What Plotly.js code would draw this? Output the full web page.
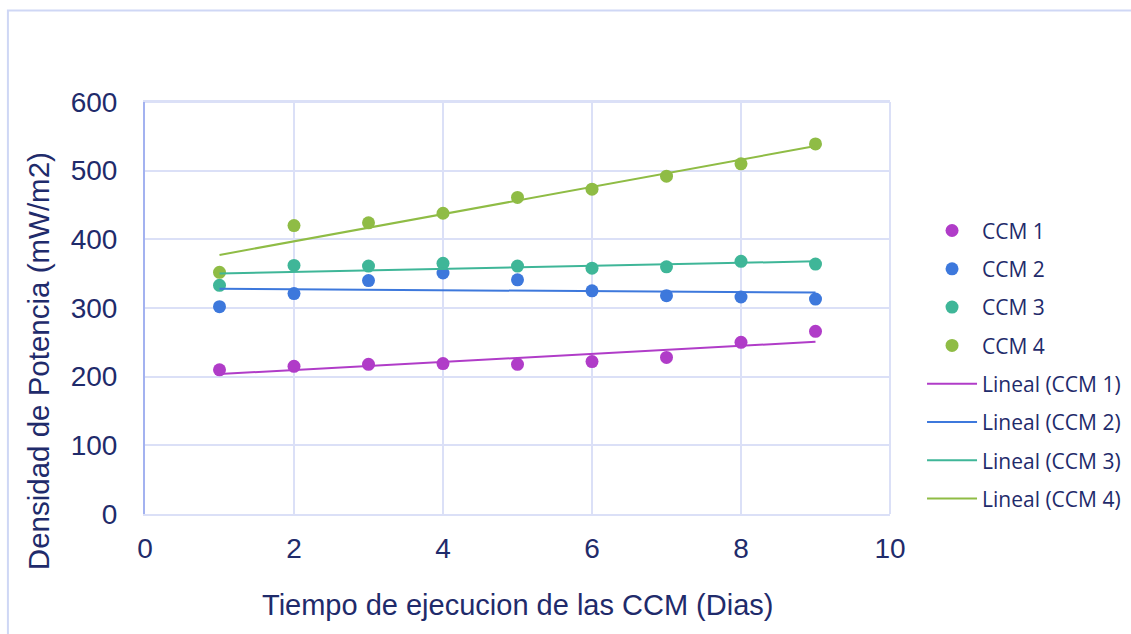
<!DOCTYPE html>
<html>
<head>
<meta charset="utf-8">
<script src="https://cdn.plot.ly/plotly-3.0.1.min.js"></script>
<style>
html,body{margin:0;padding:0;background:#fff;overflow:hidden;}
#chart{width:1131px;height:634px;}
</style>
</head>
<body>
<div id="chart"></div>
<script>
// Data
const dias = [1, 2, 3, 4, 5, 6, 7, 8, 9];
const ccm1 = [210, 215, 218, 219, 218, 222, 228, 250, 266];
const ccm2 = [302, 321, 340, 351, 341, 325, 318, 316, 313];
const ccm3 = [333, 362, 361, 365, 361, 358, 360, 368, 364];
const ccm4 = [352, 420, 424, 438, 461, 473, 492, 510, 539];
const seriesNames = ['CCM 1', 'CCM 2', 'CCM 3', 'CCM 4'];
const seriesColors = ['#b03cc8', '#3d78dc', '#3fb698', '#8fbc45'];
const xTicks = [0, 2, 4, 6, 8, 10];
const yTicks = [0, 100, 200, 300, 400, 500, 600];
const xTitle = 'Tiempo de ejecucion de las CCM (Dias)';
const yTitle = 'Densidad de Potencia (mW/m2)';

// Least-squares linear trendline (like Excel "Lineal")
function linearFit(x, y) {
  const n = x.length;
  const mx = x.reduce((a, b) => a + b, 0) / n;
  const my = y.reduce((a, b) => a + b, 0) / n;
  let sxy = 0, sxx = 0;
  for (let i = 0; i < n; i++) { sxy += (x[i] - mx) * (y[i] - my); sxx += (x[i] - mx) ** 2; }
  const m = sxy / sxx, b = my - m * mx;
  return x.map(v => m * v + b);
}

const allSeries = [ccm1, ccm2, ccm3, ccm4];
const traces = [];
allSeries.forEach((ys, i) => {
  traces.push({
    x: dias, y: ys, name: seriesNames[i], type: 'scatter', mode: 'markers',
    marker: { color: seriesColors[i], size: 13 },
    legendgroup: 'g' + i, legendrank: i + 1
  });
});
allSeries.forEach((ys, i) => {
  traces.push({
    x: dias, y: linearFit(dias, ys), name: 'Lineal (' + seriesNames[i] + ')',
    type: 'scatter', mode: 'lines',
    line: { color: seriesColors[i], width: 2 },
    legendgroup: 'l' + i, legendrank: i + 5
  });
});

const textColor = '#1f2b6b';
const gridColor = '#dbe0f7';

const layout = {
  width: 1131, height: 634,
  margin: { l: 145, r: 241, t: 102, b: 120, autoexpand: false },
  paper_bgcolor: '#ffffff', plot_bgcolor: '#ffffff',
  font: { family: 'Liberation Sans, Arial, sans-serif', color: textColor },
  showlegend: true,
  legend: {
    x: 1.043, xanchor: 'left', y: 0.737, yanchor: 'top',
    font: { family: 'Open Sans, sans-serif', size: 21, color: textColor },
    traceorder: 'grouped', tracegroupgap: 8, itemwidth: 50,
    bgcolor: 'rgba(0,0,0,0)'
  },
  xaxis: {
    range: [0, 10], tickvals: xTicks, ticktext: xTicks.map(String),
    showgrid: true, gridcolor: gridColor, gridwidth: 2,
    zeroline: false, showline: true, linecolor: gridColor, linewidth: 2, mirror: true,
    ticks: '', ticklabelstandoff: 8,
    tickfont: { size: 28, color: textColor }
  },
  yaxis: {
    range: [0, 600], tickvals: yTicks, ticktext: yTicks.map(String),
    showgrid: true, gridcolor: gridColor, gridwidth: 2,
    zeroline: false, showline: true, linecolor: '#a3b2f0', linewidth: 2,
    ticks: '', ticklabelstandoff: 20,
    tickfont: { size: 28, color: textColor }
  },
  annotations: [
    { text: xTitle, xref: 'paper', yref: 'paper', x: 0.5, y: -0.22,
      xanchor: 'center', yanchor: 'middle', showarrow: false,
      font: { size: 29, color: textColor } },
    { text: yTitle, xref: 'paper', yref: 'paper', x: -0.1436, y: 0.371,
      xanchor: 'center', yanchor: 'middle', showarrow: false, textangle: -90,
      font: { size: 29.5, color: textColor } }
  ],
  shapes: [
    { type: 'path', xref: 'paper', yref: 'paper',
      path: 'M -0.184,-0.4 L -0.184,1.222 L 1.6,1.222',
      line: { color: '#cfd7f5', width: 2 } },
    { type: 'line', xref: 'paper', yref: 'paper', x0: 1, x1: 1, y0: 0, y1: 1,
      line: { color: gridColor, width: 2 } },
    { type: 'line', xref: 'paper', yref: 'paper', x0: 0, x1: 1, y0: 1, y1: 1,
      line: { color: gridColor, width: 2 } }
  ]
};

Plotly.newPlot('chart', traces, layout, { displayModeBar: false, staticPlot: true });
</script>
</body>
</html>
